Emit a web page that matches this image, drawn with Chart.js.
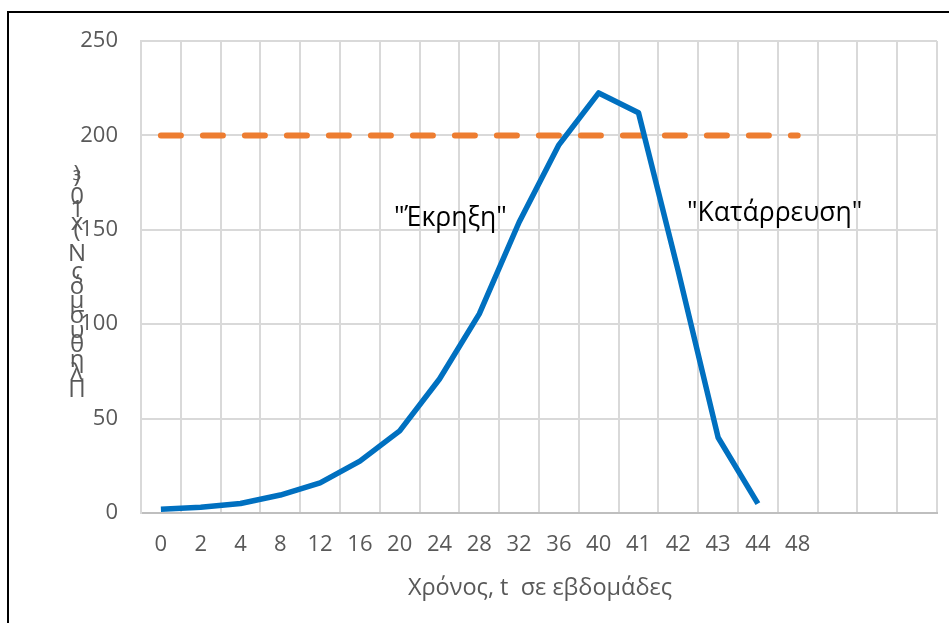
<!DOCTYPE html>
<html>
<head>
<meta charset="utf-8">
<script src="https://cdn.jsdelivr.net/npm/chart.js@4.4.1/dist/chart.umd.min.js"></script>
<style>
  body { margin: 0; background: #fff; }
  canvas { display: block; }
</style>
</head>
<body>
<canvas id="logisticChart" width="949" height="623"></canvas>
<script>
// δεδομένα
const weeks = ['0', '2', '4', '8', '12', '16', '20', '24', '28', '32', '36', '40', '41', '42', '43', '44', '48', '', '', ''];
const population = [2, 3, 5, 9.5, 16, 27.5, 43.5, 71, 105.5, 154, 195, 222.5, 212, 128, 40, 5];
const capacity = [200, 200, 200, 200, 200, 200, 200, 200, 200, 200, 200, 200, 200, 200, 200, 200, 200];
const yTicks = [0, 50, 100, 150, 200, 250];

const yTitle = 'Πληθυσμός Ν (x10³)';
const xTitle = 'Χρόνος, t  σε εβδομάδες';
const notes = [
    { text: '"Έκρηξη"', x: 394, y: 226 },
    { text: '"Κατάρρευση"', x: 687, y: 221 }
];

const textPlugin = {
    id: 'textPlugin',
    beforeDraw(chart) {
        const ctx = chart.ctx;
        ctx.save();
        ctx.fillStyle = '#fff';
        ctx.fillRect(0, 0, chart.width, chart.height);
        // πλαίσιο
        ctx.strokeStyle = '#000';
        ctx.lineWidth = 2;
        ctx.beginPath();
        ctx.moveTo(8, chart.height + 5);
        ctx.lineTo(8, 12);
        ctx.lineTo(chart.width + 5, 12);
        ctx.stroke();
        ctx.restore();
    },
    afterDraw(chart) {
        const ctx = chart.ctx;
        ctx.save();
        ctx.fillStyle = '#595959';
        ctx.font = '23.5px "Open Sans"';
        ctx.textAlign = 'center';
        ctx.textBaseline = 'alphabetic';
        ctx.fillText(xTitle, 540, 595);

        // ο τίτλος του άξονα y, γράμματα όρθια το ένα πάνω στο άλλο
        ctx.font = '24px "Open Sans"';
        let y = 397;
        for (const ch of yTitle) {
            ctx.fillText(ch, 77, y);
            y -= ctx.measureText(ch).width;
        }

        ctx.fillStyle = '#000';
        ctx.textAlign = 'left';
        ctx.font = '26.5px "Open Sans"';
        notes.forEach(function(n) {
            ctx.fillText(n.text, n.x, n.y);
        });
        ctx.restore();
    }
};

const ctx = document.getElementById('logisticChart').getContext('2d');
new Chart(ctx, {
    type: 'line',
    data: {
        labels: weeks,
        datasets: [
            {
                label: 'Πληθυσμός',
                data: population,
                borderColor: '#0070C0',
                backgroundColor: '#0070C0',
                borderWidth: 5.5,
                pointRadius: 0,
                tension: 0,
                borderJoinStyle: 'round'
            },
            {
                label: 'Φέρουσα ικανότητα',
                data: capacity,
                borderColor: '#ED7D31',
                backgroundColor: '#ED7D31',
                borderWidth: 6,
                pointRadius: 0,
                borderDash: [20, 22],
                borderCapStyle: 'round'
            }
        ]
    },
    options: {
        responsive: false,
        animation: false,
        layout: {
            padding: { left: 0, top: 41, right: 12, bottom: 0 }
        },
        plugins: {
            legend: { display: false },
            tooltip: { enabled: false }
        },
        scales: {
            x: {
                offset: true,
                grid: {
                    offset: true,
                    color: '#d9d9d9',
                    lineWidth: 2,
                    drawTicks: false
                },
                border: { color: '#bfbfbf', width: 2 },
                ticks: {
                    color: '#595959',
                    font: { family: 'Open Sans', size: 22 },
                    padding: 19,
                    maxRotation: 0,
                    autoSkip: false
                },
                afterFit(scale) { scale.height = 110; }
            },
            y: {
                min: 0,
                max: 250,
                afterBuildTicks(scale) {
                    scale.ticks = yTicks.map(v => ({ value: v }));
                },
                grid: {
                    color: '#d9d9d9',
                    lineWidth: 2,
                    drawTicks: false
                },
                border: { color: '#d9d9d9', width: 2 },
                ticks: {
                    color: '#595959',
                    font: { family: 'Open Sans', size: 22 },
                    padding: 23
                },
                afterFit(scale) { scale.width = 141; }
            }
        }
    },
    plugins: [textPlugin]
});
</script>
</body>
</html>
